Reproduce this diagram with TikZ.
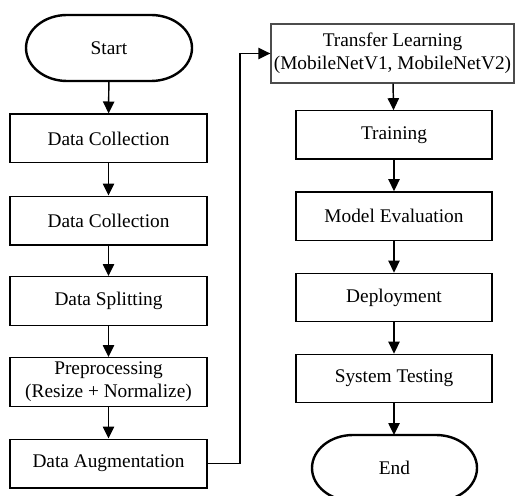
\documentclass[tikz,border=0pt]{standalone}
\usepackage{fontspec}
\setmainfont{Liberation Serif}
\usetikzlibrary{arrows.meta}
\begin{document}
\begin{tikzpicture}[x=0.75pt,y=-0.75pt,
  font=\fontsize{14.5pt}{17.3pt}\selectfont,
  lbox/.style={draw, line width=1pt, minimum width=147.75pt, minimum height=36.5pt, inner sep=0pt, align=center},
  rbox/.style={draw, line width=1pt, minimum width=147pt, minimum height=36.25pt, inner sep=0pt, align=center},
  term/.style={minimum width=124.5pt, minimum height=49.5pt, inner sep=0pt},
  tshape/.style={draw, line width=1.8pt},
  arr/.style={draw, line width=1.1pt, -{Triangle[length=9pt,width=8.5pt]}}]
\useasboundingbox[fill=white] (0,0) rectangle (516,495);
% terminals
\path[tshape] (67,15) -- (151,15) .. controls (173.6,15) and (192,29.8) .. (192,48) .. controls (192,66.2) and (173.6,81) .. (151,81) -- (67,81) .. controls (44.4,81) and (26,66.2) .. (26,48) .. controls (26,29.8) and (44.4,15) .. (67,15) -- cycle;
\node[term] (start) at (109,48) {Start};
\path[tshape] (353,435) -- (436,435) .. controls (458.6,435) and (477,449.8) .. (477,468) .. controls (477,486.2) and (458.6,501) .. (436,501) -- (353,501) .. controls (330.4,501) and (312,486.2) .. (312,468) .. controls (312,449.8) and (330.4,435) .. (353,435) -- cycle;
\node[term] (end) at (394.5,468) {End};
% left column
\node[lbox] (dc1) at (108.5,138.5) {Data Collection};
\node[lbox] (dc2) at (108.5,220.5) {Data Collection};
\node[lbox] (split) at (108.5,301) {Data Splitting};
\node[lbox] (pre) at (108.5,382) {Preprocessing\\(Resize + Normalize)};
\node[lbox] (aug) at (108.5,463.5) {Data Augmentation};
% right column
\node[draw=black!70, line width=1pt, minimum width=182.25pt, minimum height=44.25pt, inner sep=0pt, align=center] (tl) at (392.5,53.5) {Transfer Learning\\(MobileNetV1, MobileNetV2)};
\node[rbox] (train) at (394,135) {Training};
\node[rbox] (eval) at (394,216) {Model Evaluation};
\node[rbox] (deploy) at (394,297.5) {Deployment};
\node[rbox] (test) at (394,378.5) {System Testing};
% connectors
\draw[arr] (start) -- (dc1);
\draw[arr] (dc1) -- (dc2);
\draw[arr] (dc2) -- (split);
\draw[arr] (split) -- (pre);
\draw[arr] (pre) -- (aug);
\coordinate (turn) at (240,463.5);
\draw[arr] (aug.east) -- (turn) |- (tl.west);
\draw[arr] (tl) -- (train);
\draw[arr] (train) -- (eval);
\draw[arr] (eval) -- (deploy);
\draw[arr] (deploy) -- (test);
\draw[arr] (test.south) -- (394,435);
\end{tikzpicture}
\end{document}
